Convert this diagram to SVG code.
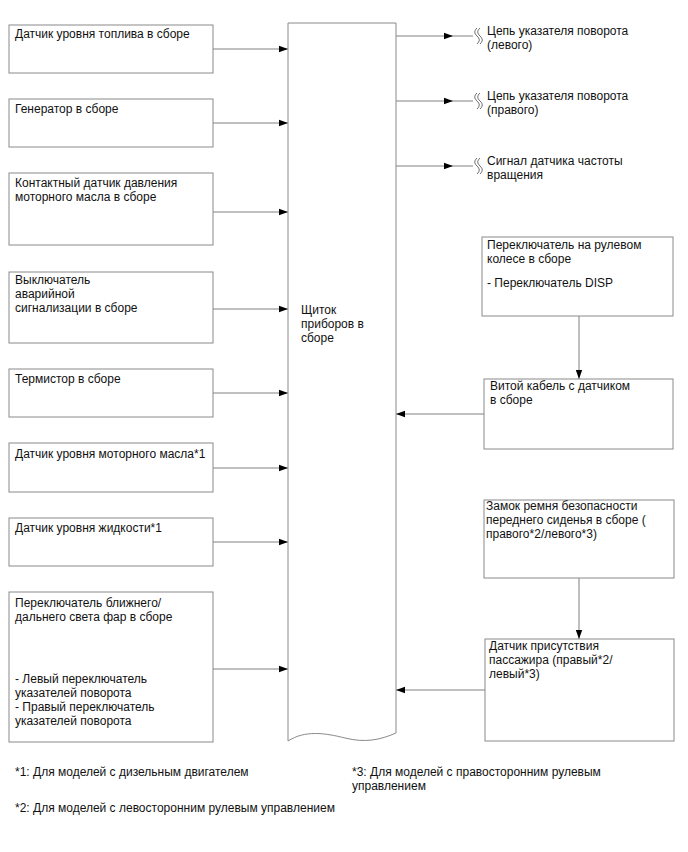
<svg xmlns="http://www.w3.org/2000/svg" width="688" height="852" viewBox="0 0 688 852">
<style>
.box{fill:#fff;stroke:#8a8a8a;stroke-width:1}
.ln{fill:none;stroke:#808080;stroke-width:1}
.sq{fill:none;stroke:#606060;stroke-width:0.9}
text{font-family:"Liberation Sans",Arial,sans-serif;font-size:12px;fill:#111}
</style>
<defs>
<marker id="ah" markerWidth="10" markerHeight="8" refX="9" refY="4" orient="auto" markerUnits="userSpaceOnUse">
<path d="M0,0.8 L9,4 L0,7.2 Z" fill="#000"/>
</marker>
</defs>
<rect width="688" height="852" fill="#fff"/>

<g id="connectors">
<line class="ln" x1="213" y1="49" x2="288" y2="49" marker-end="url(#ah)"/>
<line class="ln" x1="213" y1="123" x2="288" y2="123" marker-end="url(#ah)"/>
<line class="ln" x1="213" y1="212" x2="288" y2="212" marker-end="url(#ah)"/>
<line class="ln" x1="213" y1="309" x2="288" y2="309" marker-end="url(#ah)"/>
<line class="ln" x1="213" y1="393" x2="288" y2="393" marker-end="url(#ah)"/>
<line class="ln" x1="213" y1="468" x2="288" y2="468" marker-end="url(#ah)"/>
<line class="ln" x1="213" y1="542" x2="288" y2="542" marker-end="url(#ah)"/>
<line class="ln" x1="213" y1="669" x2="288" y2="669" marker-end="url(#ah)"/>
<line class="ln" x1="396" y1="36" x2="453" y2="36" marker-end="url(#ah)"/>
<line class="ln" x1="453" y1="36" x2="473" y2="36"/>
<line class="ln" x1="396" y1="101" x2="453" y2="101" marker-end="url(#ah)"/>
<line class="ln" x1="453" y1="101" x2="473" y2="101"/>
<line class="ln" x1="396" y1="166" x2="453" y2="166" marker-end="url(#ah)"/>
<line class="ln" x1="453" y1="166" x2="473" y2="166"/>
<path class="sq" d="M477,28 c-3,3 -3,5 0,8 c3,3 3,5 0,8 M480,28 c-3,3 -3,5 0,8 c3,3 3,5 0,8"/>
<path class="sq" d="M477,93 c-3,3 -3,5 0,8 c3,3 3,5 0,8 M480,93 c-3,3 -3,5 0,8 c3,3 3,5 0,8"/>
<path class="sq" d="M477,158 c-3,3 -3,5 0,8 c3,3 3,5 0,8 M480,158 c-3,3 -3,5 0,8 c3,3 3,5 0,8"/>
<line class="ln" x1="579" y1="316" x2="579" y2="379" marker-end="url(#ah)"/>
<line class="ln" x1="484" y1="414" x2="396" y2="414" marker-end="url(#ah)"/>
<line class="ln" x1="579" y1="578" x2="579" y2="639" marker-end="url(#ah)"/>
<line class="ln" x1="485" y1="690" x2="396" y2="690" marker-end="url(#ah)"/>
</g>

<g id="panel">
<path class="box" d="M288,23 H396 V733 C380,740 365,743 345,738 C325,733 305,730 288,741 Z"/>
<text x="301" y="314">Щиток</text>
<text x="301" y="328">приборов в</text>
<text x="301" y="342">сборе</text>
</g>

<g id="n1"><rect class="box" x="9" y="25" width="204" height="48"/>
<text x="15" y="38">Датчик уровня топлива в сборе</text></g>
<g id="n2"><rect class="box" x="9" y="99" width="204" height="48"/>
<text x="15" y="113">Генератор в сборе</text></g>
<g id="n3"><rect class="box" x="9" y="173" width="204" height="72"/>
<text x="15" y="187">Контактный датчик давления</text>
<text x="15" y="201">моторного масла в сборе</text></g>
<g id="n4"><rect class="box" x="9" y="272" width="204" height="71"/>
<text x="15" y="284">Выключатель</text>
<text x="15" y="298">аварийной</text>
<text x="15" y="312">сигнализации в сборе</text></g>
<g id="n5"><rect class="box" x="9" y="369" width="204" height="48"/>
<text x="15" y="383">Термистор в сборе</text></g>
<g id="n6"><rect class="box" x="9" y="443" width="204" height="49"/>
<text x="15" y="458">Датчик уровня моторного масла*1</text></g>
<g id="n7"><rect class="box" x="9" y="518" width="204" height="48"/>
<text x="15" y="532">Датчик уровня жидкости*1</text></g>
<g id="n8"><rect class="box" x="9" y="592" width="204" height="150"/>
<text x="15" y="607">Переключатель ближнего/</text>
<text x="15" y="621">дальнего света фар в сборе</text>
<text x="15" y="683">- Левый переключатель</text>
<text x="15" y="697">указателей поворота</text>
<text x="15" y="711">- Правый переключатель</text>
<text x="15" y="725">указателей поворота</text></g>

<g id="o1"><text x="487" y="35">Цепь указателя поворота</text><text x="487" y="49">(левого)</text></g>
<g id="o2"><text x="487" y="100">Цепь указателя поворота</text><text x="487" y="114">(правого)</text></g>
<g id="o3"><text x="487" y="165">Сигнал датчика частоты</text><text x="487" y="179">вращения</text></g>

<g id="r1"><rect class="box" x="482" y="237" width="191" height="79"/>
<text x="487" y="249">Переключатель на рулевом</text>
<text x="487" y="263">колесе в сборе</text>
<text x="487" y="287">- Переключатель DISP</text></g>
<g id="r2"><rect class="box" x="484" y="379" width="189" height="70"/>
<text x="490" y="390">Витой кабель с датчиком</text>
<text x="490" y="404">в сборе</text></g>
<g id="r3"><rect class="box" x="484" y="500" width="190" height="78"/>
<text x="486" y="510">Замок ремня безопасности</text>
<text x="486" y="524">переднего сиденья в сборе (</text>
<text x="486" y="538">правого*2/левого*3)</text></g>
<g id="r4"><rect class="box" x="485" y="639" width="189" height="102"/>
<text x="489" y="650">Датчик присутствия</text>
<text x="489" y="664">пассажира (правый*2/</text>
<text x="489" y="678">левый*3)</text></g>

<g id="notes">
<text x="15" y="776">*1: Для моделей с дизельным двигателем</text>
<text x="352" y="776">*3: Для моделей с правосторонним рулевым</text>
<text x="352" y="790">управлением</text>
<text x="15" y="812">*2: Для моделей с левосторонним рулевым управлением</text>
</g>
</svg>
